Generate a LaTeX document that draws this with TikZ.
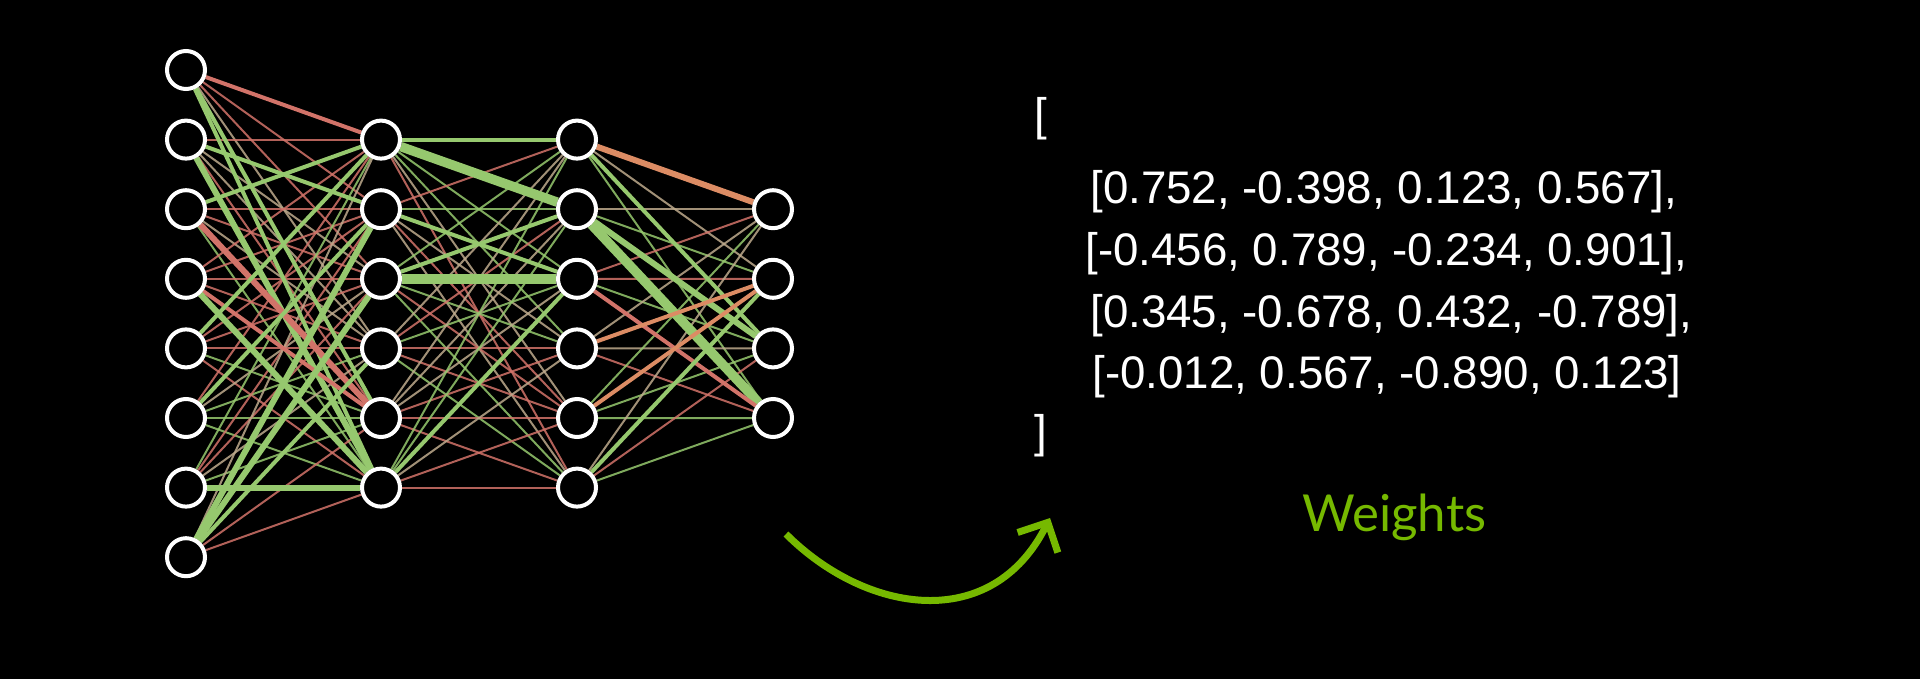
\documentclass[tikz,border=0pt]{standalone}
\usepackage{fontspec}
\setmainfont{Liberation Sans}
\newfontfamily\captionfont{Lato}
\usetikzlibrary{arrows.meta,backgrounds}

\definecolor{wgreen}{HTML}{96C86E}
\definecolor{wred}{HTML}{D27369}
\definecolor{wtan}{HTML}{BEAA8C}
\definecolor{worange}{HTML}{DC8C64}
\definecolor{nvgreen}{HTML}{76B900}

\tikzset{
    neuron/.style={circle,draw=white,fill=black,line width=0.08cm,minimum size=0.76cm,inner sep=0pt},
    wire/.style={line width=0.04cm,opacity=0.85},
    midwire/.style={line width=0.08cm},
    heavywire/.style={line width=0.12cm},
    fatwire/.style={line width=0.19cm},
    rowtext/.style={anchor=base west,inner sep=0pt,text=white,font=\fontsize{26}{30}\selectfont},
    caption/.style={anchor=base west,inner sep=0pt,text=nvgreen,font=\captionfont\fontsize{29}{34}\selectfont}
}

\begin{document}
\begin{tikzpicture}[x=0.02cm,y=-0.02cm]
\useasboundingbox (0,0) rectangle (1920,679);

% neurons, layer by layer
\foreach \k in {1,...,8}
    \node[neuron] (i\k) at (186,{70+69.6*(\k-1)}) {};
\foreach \k in {1,...,6} {
    \node[neuron] (h\k) at (381,{139.6+69.6*(\k-1)}) {};
    \node[neuron] (g\k) at (577,{139.6+69.6*(\k-1)}) {};
}
\foreach \k in {1,...,4}
    \node[neuron] (o\k) at (773,{209.2+69.6*(\k-1)}) {};

\begin{pgfonlayer}{background}
\fill[black] (0,0) rectangle (1920,679);

% thin weights
\pgfmathsetseed{7}
\pgfmathdeclarerandomlist{wirecolours}{{wgreen}{wgreen}{wred}{wred}{wtan}}
\foreach \a in {1,...,8}
    \foreach \b in {1,...,6} {
        \pgfmathrandomitem{\c}{wirecolours}
        \draw[wire,draw=\c] (i\a) -- (h\b);
    }
\foreach \a in {1,...,6}
    \foreach \b in {1,...,6} {
        \pgfmathrandomitem{\c}{wirecolours}
        \draw[wire,draw=\c] (h\a) -- (g\b);
    }
\foreach \a in {1,...,6}
    \foreach \b in {1,...,4} {
        \pgfmathrandomitem{\c}{wirecolours}
        \draw[wire,draw=\c] (g\a) -- (o\b);
    }

% strong weights
\foreach \a/\b/\col/\w in {
    i1/h1/wred/midwire, i1/h5/wgreen/midwire, i1/h6/wgreen/midwire,
    i2/h2/wgreen/midwire, i2/h6/wgreen/heavywire, i3/h1/wgreen/midwire,
    i3/h5/wred/heavywire, i4/h5/wred/midwire, i4/h6/wgreen/heavywire,
    i5/h1/wgreen/midwire, i6/h2/wgreen/midwire, i7/h6/wgreen/heavywire,
    i8/h2/wgreen/heavywire, i8/h3/wgreen/heavywire, i8/h4/wgreen/midwire,
    h1/g1/wgreen/midwire, h1/g2/wgreen/fatwire, h2/g3/wgreen/midwire,
    h3/g2/wgreen/midwire, h3/g3/wgreen/fatwire, h6/g3/wgreen/midwire,
    g1/o1/worange/heavywire, g1/o3/wgreen/midwire, g2/o3/wgreen/heavywire,
    g2/o4/wgreen/fatwire, g3/o4/wred/midwire, g4/o2/worange/midwire,
    g5/o2/worange/midwire, g6/o2/wgreen/midwire}
    \draw[\w,draw=\col] (\a) -- (\b);
\end{pgfonlayer}

% arrow
\coordinate (arrowtail) at (786,534);
\coordinate (arrowtip) at (1050,518);
\draw[nvgreen,line width=0.14cm,-{Straight Barb[length=0.45cm,width=0.9cm]}]
    (arrowtail) .. controls (866,614) and (992,634) .. (arrowtip);

% weight matrix
\node[rowtext] (open) at (1034,131) {[};
\node[rowtext] (row1) at (1090,203) {[0.752, -0.398, 0.123, 0.567],};
\node[rowtext] (row2) at (1085,265) {[-0.456, 0.789, -0.234, 0.901],};
\node[rowtext] (row3) at (1090,327) {[0.345, -0.678, 0.432, -0.789],};
\node[rowtext] (row4) at (1092,388) {[-0.012, 0.567, -0.890, 0.123]};
\node[rowtext] (close) at (1034,447) {]};
\node[caption] (label) at (1302,531) {Weights};
\end{tikzpicture}
\end{document}
